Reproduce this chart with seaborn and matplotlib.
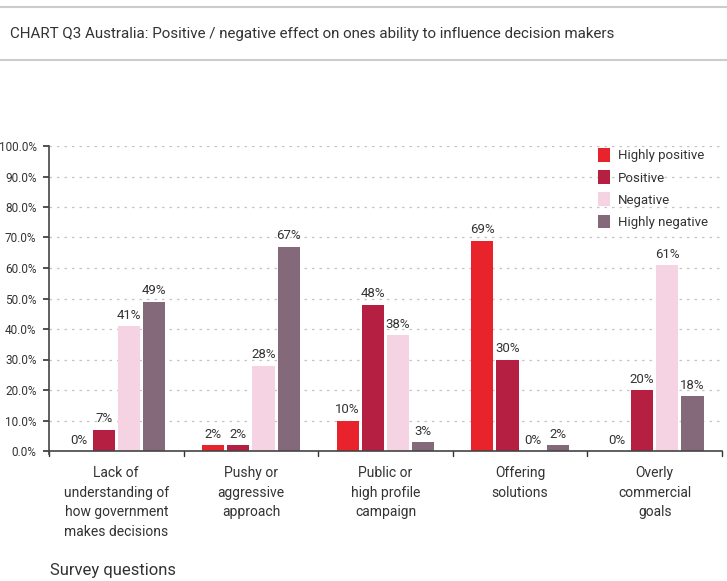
import matplotlib
matplotlib.use("Agg")
import matplotlib.pyplot as plt
import seaborn as sns
import pandas as pd
from matplotlib.lines import Line2D
from matplotlib.patches import Patch

categories = ["Lack of\nunderstanding of\nhow government\nmakes decisions",
              "Pushy or\naggressive\napproach",
              "Public or\nhigh profile\ncampaign",
              "Offering\nsolutions",
              "Overly\ncommercial\ngoals"]
series = ["Highly positive", "Positive", "Negative", "Highly negative"]
highly_positive = [0, 2, 10, 69, 0]
positive = [7, 2, 48, 30, 20]
negative = [41, 28, 38, 0, 61]
highly_negative = [49, 67, 3, 2, 18]
colors = ["#E8232B", "#B51F42", "#F6D3E3", "#84697A"]
yticks = [0, 10, 20, 30, 40, 50, 60, 70, 80, 90, 100]

sns.set_theme(style="white")
plt.rcParams['font.family'] = ['Roboto', 'DejaVu Sans']

rows = []
for s, vals in zip(series, [highly_positive, positive, negative, highly_negative]):
    for i, v in enumerate(vals):
        rows.append({"cat": i, "series": s, "value": v})
df = pd.DataFrame(rows)

fig = plt.figure(figsize=(7.27, 5.81), dpi=100)
ax = fig.add_axes([49/727, 130/581, 673/727, 305/581])

sns.barplot(data=df, x="cat", y="value", hue="series", hue_order=series,
            palette=colors, width=0.75, gap=0.12, ax=ax, legend=False,
            saturation=1, edgecolor="none", linewidth=0)

for cont in ax.containers:
    ax.bar_label(cont, labels=[f"{int(round(b.get_height()))}%" for b in cont],
                 padding=3, fontsize=9.5, color="#333333")

ax.set_ylim(0, 100)
ax.set_xlim(-0.5, 4.5)
ax.set_yticks(yticks)
ax.set_yticklabels([f"{t:.1f}%" for t in yticks], fontsize=8.5, color="#333333")
ax.yaxis.grid(True, linestyle=(0, (2, 4)), color="#C4C4C4", linewidth=0.9)
ax.set_axisbelow(True)
ax.tick_params(axis="y", length=4, width=1.2, color="#333333", pad=5, left=True)
ax.set_xticks(range(5))
ax.set_xticklabels(categories, fontsize=10, color="#333333", linespacing=1.5)
ax.tick_params(axis="x", length=0, pad=11)
for b in [-0.5, 0.5, 1.5, 2.5, 3.5, 4.5]:
    ax.plot([b, b], [0, -1.5], color="#333333", lw=1, clip_on=False)
for sp in ["top", "right"]:
    ax.spines[sp].set_visible(False)
ax.spines["left"].set_color("#444444")
ax.spines["bottom"].set_color("#444444")
ax.spines["left"].set_linewidth(1.2)
ax.spines["bottom"].set_linewidth(1.2)
ax.spines["left"].set_bounds(-1, 100)
ax.set_xlabel("")
ax.set_ylabel("")

fig.text(50/727, 1 - 571/581, "Survey questions", fontsize=12, color="#333333",
         ha="left", va="center")

handles = [Patch(facecolor=c, edgecolor="none") for c in colors]
leg = ax.legend(handles, series, loc="upper left", bbox_to_anchor=(544/673, 1.01),
                frameon=False, fontsize=9.5, handlelength=0.9, handleheight=1.2,
                labelspacing=0.6, handletextpad=0.6, borderaxespad=0)
for t in leg.get_texts():
    t.set_color("#333333")

fig.add_artist(Line2D([0, 1], [1 - 7/581, 1 - 7/581], color="#CCCCCC", lw=1.5))
fig.add_artist(Line2D([0, 1], [1 - 60/581, 1 - 60/581], color="#CCCCCC", lw=1.5))
fig.text(10/727, 1 - 34/581,
         "CHART Q3 Australia: Positive / negative effect on ones ability to influence decision makers",
         fontsize=10.9, color="#333333", ha="left", va="center")

fig.savefig("out.png", dpi=100)
